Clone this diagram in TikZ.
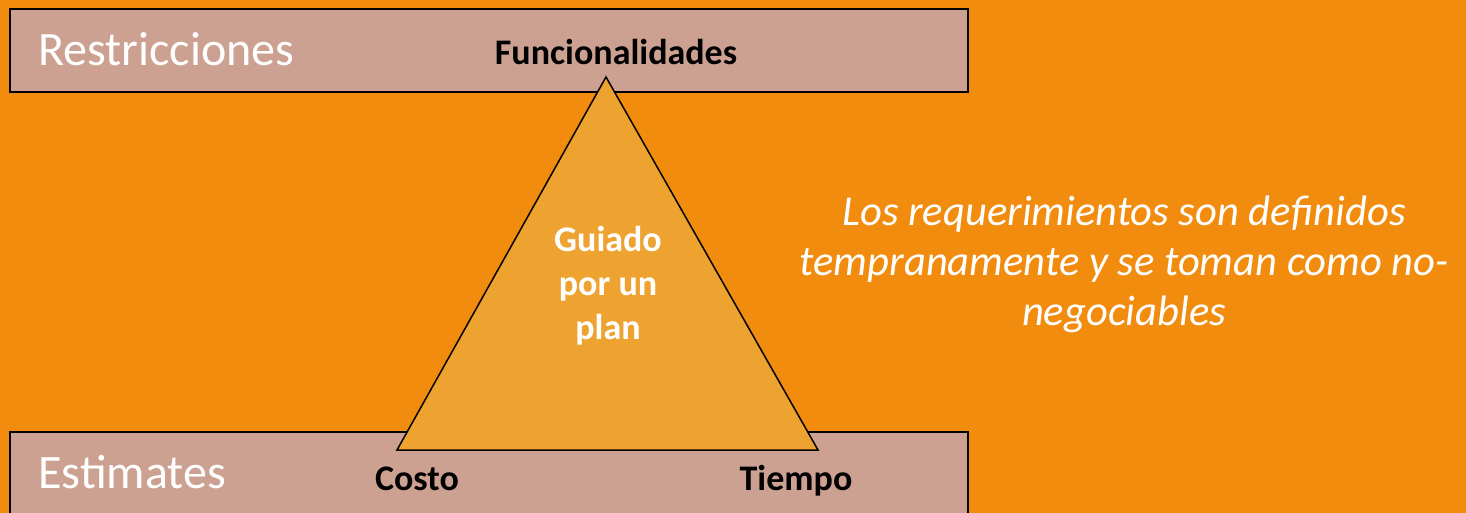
\documentclass[tikz,border=0pt]{standalone}
\usepackage{fontspec}
\setmainfont{Carlito}
\usetikzlibrary{positioning}

\definecolor{bgorange}{HTML}{F28C0E}
\definecolor{boxrose}{HTML}{CDA192}
\definecolor{trifill}{HTML}{EEA331}

\begin{document}
\begin{tikzpicture}[
  x=0.5pt, y=-0.5pt,
  band/.style={fill=boxrose, draw=black, line width=1pt},
  bandlabel/.style={font=\fontsize{24}{29}\selectfont, text=white, anchor=base west, inner sep=0pt},
  corner/.style={font=\bfseries\fontsize{18}{22}\selectfont, anchor=base, inner sep=0pt},
]

% --- Background ---
\fill[bgorange] (0, 0) rectangle (1466, 513);
\useasboundingbox (0, 0) rectangle (1466, 513);

% --- Bands ---
\draw[band] (10, 9) rectangle (968, 92);
\draw[band] (10, 432) rectangle (968, 530);
\node[bandlabel] (restr) at (38, 66) {Restricciones};
\node[bandlabel] (estim) at (38, 488) {Estimates};

% --- Triangle ---
\coordinate (apex) at (606, 77);
\coordinate (left) at (397, 450);
\coordinate (right) at (818, 450);
\draw[fill=trifill, line width=0.75pt, line join=miter] (apex) -- (left) -- (right) -- cycle;
\node[font=\bfseries\fontsize{18}{22}\selectfont, text=white, align=center,
  inner sep=0pt] (plan) at (608, 286) {Guiado\\por un\\plan};

% Corner labels
\node[corner] (func) at (616, 65) {Funcionalidades};
\node[corner] (costo) at (417, 490) {Costo};
\node[corner] (tiempo) at (796, 490) {Tiempo};

% --- Note ---
\node[font=\itshape\fontsize{21.3}{25}\selectfont, text=white, align=center,
  inner sep=0pt] (note) at (1124, 264)
  {Los requerimientos son definidos\\tempranamente y se toman como no-\\negociables};

\end{tikzpicture}
\end{document}
